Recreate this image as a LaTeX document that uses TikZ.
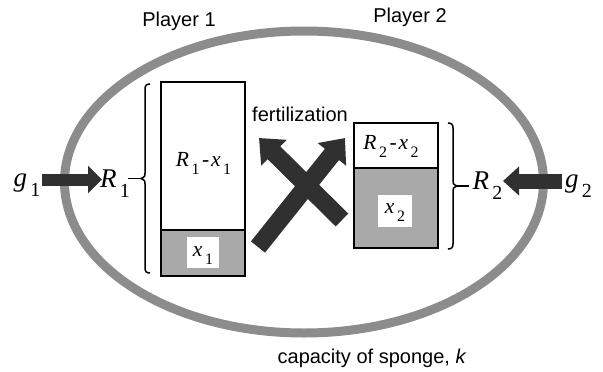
\documentclass[tikz,border=0pt]{standalone}
\usepackage{fontspec}
\setmainfont{Liberation Serif}
\newfontfamily\arialf{Liberation Sans}
\usetikzlibrary{arrows.meta}
\definecolor{ringgray}{HTML}{8C8C8C}
\definecolor{boxgray}{HTML}{A9A9A9}
\definecolor{arrdark}{HTML}{303030}
\newcommand\vsub[2]{\textit{#1}\kern0.12em\raisebox{-0.38em}{\scalebox{0.74}{#2}}}
\begin{document}
\begin{tikzpicture}[x=1pt,y=-1pt,
  lab/.style={font=\arialf\fontsize{20}{20}\selectfont, inner sep=0, anchor=base},
  big/.style={font=\fontsize{27}{27}\selectfont, inner sep=0, anchor=base},
  mid/.style={font=\fontsize{21.5}{21.5}\selectfont, inner sep=0, anchor=base},
  part/.style={draw=black, line width=2.4pt, inner sep=0, minimum width=84pt},
  whitesq/.style={fill=white, inner sep=0},
  brack/.style={draw=black, line width=1.5pt},
  harr/.style={draw=arrdark, line width=#1},
  xarr/.style={draw=arrdark, line width=18pt, -{Triangle[width=35pt,length=21pt]}}
]
\useasboundingbox (0,0) rectangle (603,372);
% sponge
\draw[ringgray, line width=9pt] (304,182) ellipse [x radius=239.5pt, y radius=151pt];

% labels
\node[lab] (p1) at (179,26) {Player 1};
\node[lab] (p2) at (410,22) {Player 2};
\node[lab] (fert) at (300,121) {fertilization};
\node[lab] (cap) at (372,363) {capacity of sponge, \textit{k}};

% player 1 boxes
\node[part, fill=boxgray, minimum height=46pt] (b1low) at (203,253) {};
\node[part, fill=white, minimum height=148pt] (b1top) at (203,156) {};
\node[whitesq, minimum width=32pt, minimum height=31pt] (sq1) at (203,252.5) {};
\node[mid] (t1) at (203.5,166) {\vsub{R}{1}\kern0.12em-\kern0.08em\vsub{x}{1}};
\node[mid] (x1) at (203,256) {\vsub{x}{1}};

% player 2 boxes
\node[part, fill=boxgray, minimum height=80pt] (b2low) at (396,208) {};
\node[part, fill=white, minimum height=45pt] (b2top) at (396,145.5) {};
\node[whitesq, minimum width=34pt, minimum height=32pt] (sq2) at (395,211) {};
\node[mid] (t2) at (391,149) {\vsub{R}{2}\kern0.12em-\kern0.08em\vsub{x}{2}};
\node[mid] (x2) at (395,213) {\vsub{x}{2}};

% outer symbols
\node[big] (g1) at (27,186) {\vsub{g}{1}};
\node[big] (R1) at (115,187) {\vsub{R}{1}};
\node[big] (R2) at (487.5,189) {\vsub{R}{2}};
\node[big] (g2) at (578.5,187) {\vsub{g}{2}};

% brackets
\draw[brack] (150,84) .. controls (146.5,84) and (145,85.5) .. (145,89) -- (145,173)
  .. controls (145,176.5) .. (141,178.5) .. controls (145,180.5) .. (145,184)
  -- (145,268) .. controls (145,271.5) and (146.5,273) .. (150,273);
\coordinate (br1) at (141,178.5);
\coordinate (d1) at (128,178.5);
\draw[brack] (br1) -- (d1);
\draw[brack] (448,123) .. controls (451.5,123) and (453,124.5) .. (453,128) -- (453,181)
  .. controls (453,184) .. (457,186) .. controls (453,188) .. (453,191)
  -- (453,244) .. controls (453,247.5) and (451.5,249) .. (448,249);
\coordinate (br2) at (457,186);
\coordinate (d2) at (469,186);
\draw[brack] (br2) -- (d2);

% inflow arrows
\coordinate (a1s) at (42,179.5);
\coordinate (a1e) at (102,179.5);
\draw[harr=12pt, -{Triangle[width=27pt,length=14pt]}] (a1s) -- (a1e);
\coordinate (a2s) at (562,181);
\coordinate (a2e) at (503,181);
\draw[harr=15pt, -{Triangle[width=28pt,length=16pt]}] (a2s) -- (a2e);

% fertilization cross
\coordinate (xa1) at (258,247);
\coordinate (xa2) at (345,138);
\coordinate (xb1) at (342,220);
\coordinate (xb2) at (259,138);
\draw[xarr] (xa1) -- (xa2);
\draw[xarr] (xb1) -- (xb2);
\end{tikzpicture}
\end{document}
